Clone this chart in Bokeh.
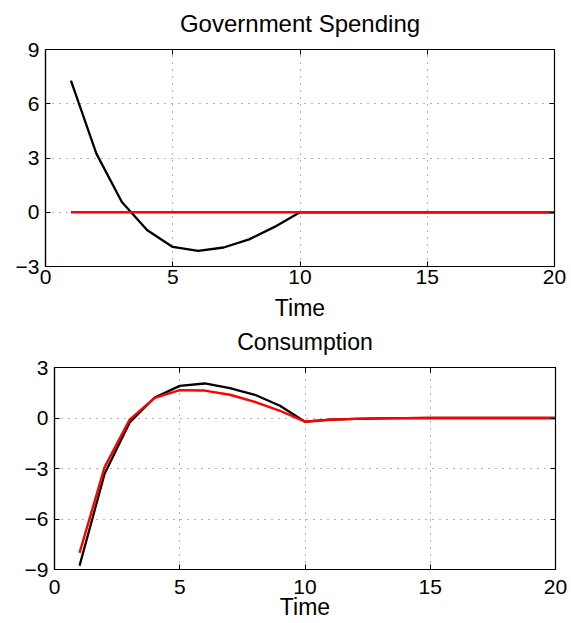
from bokeh.plotting import figure
from bokeh.layouts import column, row
from bokeh.models import FixedTicker, LinearAxis, Range1d, CustomJSTickFormatter
from bokeh.embed import file_html
from bokeh.resources import INLINE

# Impulse responses over 20 periods
time = list(range(1, 21))

gov_black = [7.28, 3.24, 0.57, -1.0, -1.92, -2.14, -1.95, -1.5, -0.81, 0.0,
             0.0, 0.0, 0.0, 0.0, 0.0, 0.0, 0.0, 0.0, 0.0, 0.0]
gov_red = [0.0] * 20

cons_black = [-8.78, -3.31, -0.26, 1.22, 1.91, 2.05, 1.78, 1.38, 0.73, -0.22,
              -0.1, -0.05, -0.02, -0.01, 0.0, 0.0, 0.0, 0.0, 0.0, 0.0]
cons_red = [-8.01, -2.92, -0.1, 1.2, 1.65, 1.63, 1.38, 0.96, 0.43, -0.22,
            -0.1, -0.05, -0.02, -0.01, 0.0, 0.0, 0.0, 0.0, 0.0, 0.0]

x_ticks = [0, 5, 10, 15, 20]
gov_ticks = [-3, 0, 3, 6, 9]
cons_ticks = [-9, -6, -3, 0, 3]

FONT = "Liberation Sans"


def tick_labels(ticks):
    return {t: (("\u2212" + str(abs(t))) if t < 0 else str(t)) for t in ticks}


def make_panel(title, yticks, series, width, height, borders,
               title_size, title_standoff, xlabel_standoff, label_standoff):
    left, right, top, bottom = borders
    p = figure(width=width, height=height, output_backend="svg", toolbar_location=None,
               title=None,
               x_range=Range1d(0, 20), y_range=Range1d(yticks[0], yticks[-1]),
               min_border_left=left, min_border_right=right,
               min_border_top=top, min_border_bottom=bottom,
               x_axis_label="Time")

    p.outline_line_color = "black"
    p.outline_line_width = 1.2
    p.background_fill_color = "white"
    p.border_fill_color = "white"

    p.xaxis.ticker = FixedTicker(ticks=x_ticks)
    p.yaxis.ticker = FixedTicker(ticks=yticks)
    p.yaxis.major_label_overrides = tick_labels(yticks)
    for ax in (p.xaxis[0], p.yaxis[0]):
        ax.major_tick_in = 5
        ax.major_tick_out = 0
        ax.minor_tick_in = 0
        ax.minor_tick_out = 0
        ax.axis_line_color = "black"
        ax.axis_line_width = 1.2
        ax.major_tick_line_color = "black"
        ax.major_label_text_font = FONT
        ax.major_label_text_font_size = "21px"
        ax.major_label_text_color = "black"
    p.xaxis.major_label_standoff = label_standoff
    p.yaxis.major_label_standoff = 6
    p.xaxis.axis_label_text_font = FONT
    p.xaxis.axis_label_text_font_size = "23px"
    p.xaxis.axis_label_text_font_style = "normal"
    p.xaxis.axis_label_text_color = "black"
    p.xaxis.axis_label_standoff = xlabel_standoff

    # box ticks on the opposite sides; the top one carries the panel heading
    blank = CustomJSTickFormatter(code="return ''")
    right_ax = LinearAxis(ticker=FixedTicker(ticks=yticks), formatter=blank,
                          major_tick_in=5, major_tick_out=0,
                          minor_tick_in=0, minor_tick_out=0,
                          axis_line_color="black", major_tick_line_color="black",
                          major_label_standoff=0, major_label_text_font_size="1px")
    p.add_layout(right_ax, "right")
    top_ax = LinearAxis(ticker=FixedTicker(ticks=x_ticks), formatter=blank,
                        major_tick_in=5, major_tick_out=0,
                        minor_tick_in=0, minor_tick_out=0,
                        axis_line_color="black", major_tick_line_color="black",
                        major_label_standoff=0, major_label_text_font_size="1px",
                        axis_label=title, axis_label_standoff=title_standoff,
                        axis_label_text_font=FONT, axis_label_text_font_size=title_size,
                        axis_label_text_font_style="normal",
                        axis_label_text_color="black")
    p.add_layout(top_ax, "above")

    p.grid.grid_line_color = "#666666"
    p.grid.grid_line_dash = "1 6"
    p.grid.grid_line_width = 1

    for ys, color, lw in series:
        p.line(time, ys, line_color=color, line_width=lw)
    return p


top = make_panel("Government Spending", gov_ticks,
                 [(gov_black, "black", 2.3), (gov_red, "#ff0000", 2.6)],
                 571, 324, (45, 17, 49, 58), "24px", 13, 8, 3)
bottom = make_panel("Consumption", cons_ticks,
                    [(cons_black, "black", 2.3), (cons_red, "#ff0000", 2.4)],
                    571, 299, (54, 16, 43, 54), "23px", 13, -3, 10)

layout = column(row(top), row(bottom), spacing=0)
open("out.html", "w").write(file_html(layout, INLINE))
